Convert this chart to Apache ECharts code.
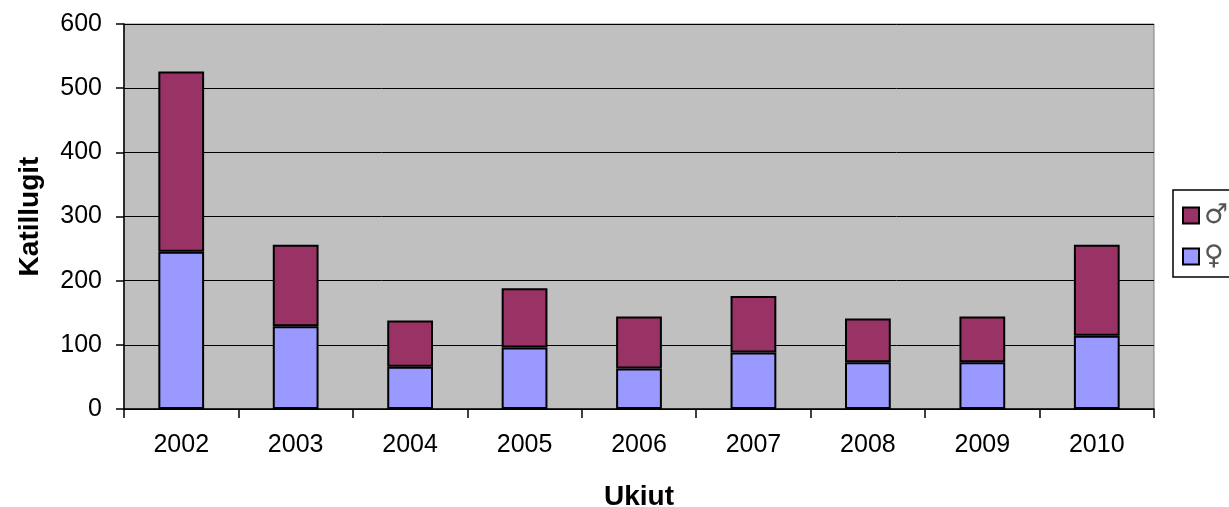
<!DOCTYPE html>
<html><head><meta charset="utf-8">
<script src="https://cdn.jsdelivr.net/npm/echarts@6/dist/echarts.min.js"></script>
<style>html,body{margin:0;padding:0;background:#fff}#c{width:1229px;height:507px}</style>
</head><body><div id="c"></div>
<script>
var categories = ['2002','2003','2004','2005','2006','2007','2008','2009','2010'];
var female = [245,129,66,96,63,88,73,73,114];
var male = [281,127,72,92,81,88,68,71,142];
var yTicks = [0,100,200,300,400,500,600];
var FONT = '"Liberation Sans", Arial, sans-serif';
var chart = echarts.init(document.getElementById('c'), null, {renderer:'canvas'});
chart.setOption({
  animation:false,
  backgroundColor:'#fff',
  grid:{left:124, top:24, width:1030, height:385, show:true, backgroundColor:'#C0C0C0', borderColor:'#808080', borderWidth:1, containLabel:false, outerBoundsMode:'none'},
  legend:{
    orient:'vertical', left:1173, top:190, itemWidth:16, itemHeight:16, itemGap:14, icon:'rect',
    padding:[12,12,7,9], borderColor:'#000', borderWidth:1.5, backgroundColor:'#fff',
    data:[{name:'♂'},{name:'♀'}],
    textStyle:{fontFamily:'"DejaVu Sans", sans-serif', fontSize:27, color:'#555', lineHeight:22}
  },
  xAxis:{type:'category', data:categories, boundaryGap:true,
    name:'Ukiut', nameLocation:'middle', nameGap:74,
    nameTextStyle:{fontFamily:FONT, fontSize:28, fontWeight:'bold', color:'#000'},
    axisLine:{lineStyle:{color:'#000', width:1.5}},
    axisTick:{show:true, length:9, alignWithLabel:false, lineStyle:{color:'#000', width:1.5}},
    axisLabel:{fontFamily:FONT, fontSize:25, color:'#000', margin:24},
    splitLine:{show:false}
  },
  yAxis:{type:'value', min:yTicks[0], max:yTicks[yTicks.length-1], interval:100,
    name:'Katillugit', nameLocation:'middle', nameGap:80,
    nameTextStyle:{fontFamily:FONT, fontSize:28, fontWeight:'bold', color:'#000'},
    axisLine:{show:true, lineStyle:{color:'#000', width:1.5}},
    axisTick:{show:true, length:8, lineStyle:{color:'#000', width:1.5}},
    axisLabel:{fontFamily:FONT, fontSize:25, color:'#000', margin:22},
    splitLine:{show:true, lineStyle:{color:'#000', width:1}}
  },
  series:[
    {name:'♀', type:'bar', stack:'t', data:female, barWidth:'40%',
      itemStyle:{color:'#9999FF', borderColor:'#000', borderWidth:2}},
    {name:'♂', type:'bar', stack:'t', data:male, barWidth:'40%',
      itemStyle:{color:'#993366', borderColor:'#000', borderWidth:2}}
  ]
});
</script></body></html>
